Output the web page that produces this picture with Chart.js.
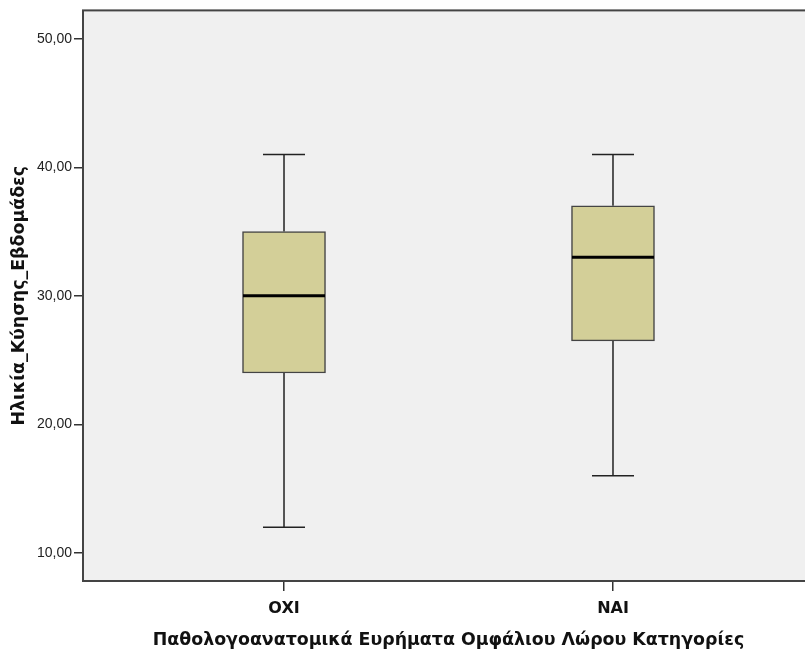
<!DOCTYPE html>
<html>
<head>
<meta charset="utf-8">
<script src="https://cdn.jsdelivr.net/npm/chart.js@4.4.1/dist/chart.umd.min.js"></script>
<style>
  html, body {margin: 0; padding: 0; background: #fff; overflow: hidden;}
  #wrap {width: 814px; height: 651px;}
</style>
</head>
<body>
<div id="wrap"><canvas id="chart" width="814" height="651"></canvas></div>
<script>
// boxplot summary per category
const categories = ["OXI", "NAI"]
const whiskerLow = [12, 16]
const q1 = [24, 26.5]
const medians = [30, 33]
const q3 = [35, 37]
const whiskerHigh = [41, 41]
const yTicks = [10, 20, 30, 40, 50]

const fmt = v => v.toFixed(2).replace(".", ",")

// plot background, whiskers, medians and frame
const boxplotExtras = {
  id: "boxplotExtras",
  beforeDatasetsDraw(chart) {
    const {ctx, chartArea: a, scales: {x, y}} = chart
    ctx.save()
    ctx.fillStyle = "#f0f0f0"
    ctx.fillRect(a.left, a.top, a.right - a.left, a.bottom - a.top)
    ctx.strokeStyle = "#222"
    ctx.lineWidth = 1.5
    categories.forEach((c, i) => {
      const px = x.getPixelForValue(i + 1)
      ctx.beginPath()
      ctx.moveTo(px, y.getPixelForValue(whiskerHigh[i]))
      ctx.lineTo(px, y.getPixelForValue(q3[i]))
      ctx.moveTo(px, y.getPixelForValue(whiskerLow[i]))
      ctx.lineTo(px, y.getPixelForValue(q1[i]))
      ctx.moveTo(px - 21, y.getPixelForValue(whiskerHigh[i]))
      ctx.lineTo(px + 21, y.getPixelForValue(whiskerHigh[i]))
      ctx.moveTo(px - 21, y.getPixelForValue(whiskerLow[i]))
      ctx.lineTo(px + 21, y.getPixelForValue(whiskerLow[i]))
      ctx.stroke()
    })
    ctx.restore()
  },
  afterDatasetsDraw(chart) {
    const {ctx, chartArea: a, scales: {x, y}} = chart
    ctx.save()
    ctx.strokeStyle = "#000"
    ctx.lineWidth = 3
    categories.forEach((c, i) => {
      const px = x.getPixelForValue(i + 1)
      const py = y.getPixelForValue(medians[i])
      ctx.beginPath()
      ctx.moveTo(px - 41, py)
      ctx.lineTo(px + 41, py)
      ctx.stroke()
    })
    ctx.strokeStyle = "#444"
    ctx.lineWidth = 2
    ctx.strokeRect(a.left, a.top, a.right - a.left, a.bottom - a.top)
    ctx.restore()
  }
}

const chart = new Chart("chart", {
  type: "bar",
  data: {
    datasets: [{
      data: categories.map((c, i) => ({x: i + 1, y: [q1[i], q3[i]]})),
      backgroundColor: "#d3cf98",
      borderColor: "#444",
      borderWidth: 1.5,
      borderSkipped: false,
      barThickness: 83,
    }]
  },
  options: {
    responsive: false,
    animation: false,
    layout: {padding: {top: 10, right: 0, left: 0, bottom: 0}},
    plugins: {
      legend: {display: false},
      tooltip: {enabled: false},
    },
    scales: {
      x: {
        type: "linear",
        offset: false,
        min: 0.389,
        max: 2.611,
        afterBuildTicks: s => { s.ticks = categories.map((c, i) => ({value: i + 1})) },
        afterFit: s => { s.height = 70 },
        grid: {drawOnChartArea: false, offset: false, tickLength: 10, color: "#333", lineWidth: 1.5},
        border: {display: false},
        ticks: {
          callback: v => categories[v - 1],
          color: "#111",
          padding: 8,
          maxRotation: 0,
          autoSkip: false,
          font: {family: "DejaVu Sans", size: 16, weight: "bold"}
        },
        title: {
          display: true,
          text: "Παθολογοανατομικά Ευρήματα Ομφάλιου Λώρου Κατηγορίες",
          color: "#111",
          padding: {top: 10, bottom: 0},
          font: {family: "DejaVu Sans", size: 17.4, weight: "bold"}
        }
      },
      y: {
        min: 7.82,
        max: 52.2,
        afterBuildTicks: s => { s.ticks = yTicks.map(v => ({value: v})) },
        afterFit: s => { s.width = 83 },
        grid: {drawOnChartArea: false, tickLength: 9, color: "#333", lineWidth: 1.5},
        border: {display: false},
        ticks: {
          callback: v => fmt(v),
          color: "#222",
          padding: 2,
          font: {family: "Liberation Sans", size: 14}
        },
        title: {
          display: true,
          text: "Ηλικία_Κύησης_Εβδομάδες",
          color: "#111",
          padding: {top: 9, bottom: 0},
          font: {family: "DejaVu Sans", size: 17.4, weight: "bold"}
        }
      }
    },
  },
  plugins: [boxplotExtras]
})
</script>
</body>
</html>
